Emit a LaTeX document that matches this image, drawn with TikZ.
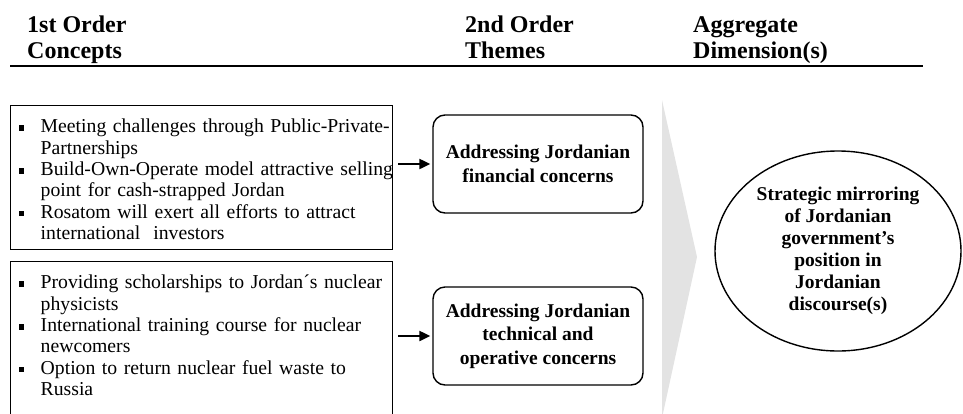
\documentclass[tikz,border=0pt]{standalone}
\usepackage{fontspec}
\setmainfont{Liberation Serif}
\usetikzlibrary{shapes,arrows.meta}

\newcommand{\sqitem}[1]{\hspace*{7pt}\makebox[22pt][l]{\rule[2pt]{5.5pt}{5.5pt}}\mbox{#1}}
\newcommand{\sqhang}[1]{\hspace*{29pt}\mbox{#1}}

\begin{document}
\begin{tikzpicture}[x=1pt,y=-1pt]
\tikzstyle{heading}=[anchor=base west,inner sep=0pt,align=left,font=\fontsize{24}{26.5}\selectfont\bfseries]
\tikzstyle{concepts}=[rectangle,draw,line width=1.4pt,anchor=north west,text width=380pt,inner xsep=1pt,inner ysep=0pt,text height=27pt,align=left,font=\fontsize{19.7}{21.4}\selectfont]
\tikzstyle{theme}=[rectangle,draw,rounded corners=12pt,line width=1.4pt,minimum width=210pt,minimum height=98pt,align=center,font=\fontsize{19.5}{23.5}\selectfont\bfseries]
\tikzstyle{dimension}=[ellipse,draw,line width=1.4pt,inner sep=0pt,minimum width=246pt,minimum height=200pt,align=center,font=\fontsize{19.5}{22}\selectfont\bfseries]
\tikzstyle{link}=[-{Triangle[length=11pt,width=10pt]},line width=2.2pt,shorten <=5pt,shorten >=2pt]

\path[use as bounding box] (0,0) rectangle (963,413);
\clip (0,0) rectangle (963,413);

% column heads (base = last line)
\node[heading](H1) at (27,58.5) {1st Order\\Concepts};
\node[heading](H2) at (465,58.5) {2nd Order\\Themes};
\node[heading](H3) at (693,58.5) {Aggregate\\Dimension(s)};
\draw[line width=2.6pt] (10,66) -- (923,66);

% big grey chevron
\fill[black!11] (662,100) -- (697,257) -- (662,418) -- cycle;

\node[concepts,text depth=117pt](C1) at (10,105) {\sqitem{Meeting challenges through Public-Private-}\\
\sqhang{Partnerships}\\
\sqitem{Build-Own-Operate model attractive selling}\\
\sqhang{point for cash-strapped Jordan}\\
\sqitem{Rosatom will exert all efforts to attract}\\
\sqhang{international~ investors}};
\node[concepts,text depth=170pt](C2) at (10,261) {\sqitem{Providing scholarships to Jordan´s nuclear}\\
\sqhang{physicists}\\
\sqitem{International training course for nuclear}\\
\sqhang{newcomers}\\
\sqitem{Option to return nuclear fuel waste to}\\
\sqhang{Russia}};

\node[theme](T1) at (538,164) {Addressing Jordanian\\financial concerns};
\node[theme](T2) at (538,336) {Addressing Jordanian\\technical and\\operative concerns};

\node[dimension](D) at (838,251) {Strategic mirroring\\of Jordanian\\government’s\\position in\\Jordanian\\discourse(s)};

\draw[link] (C1.east |- T1.west) -- (T1.west);
\draw[link] (C2.east |- T2.west) -- (T2.west);
\end{tikzpicture}
\end{document}
